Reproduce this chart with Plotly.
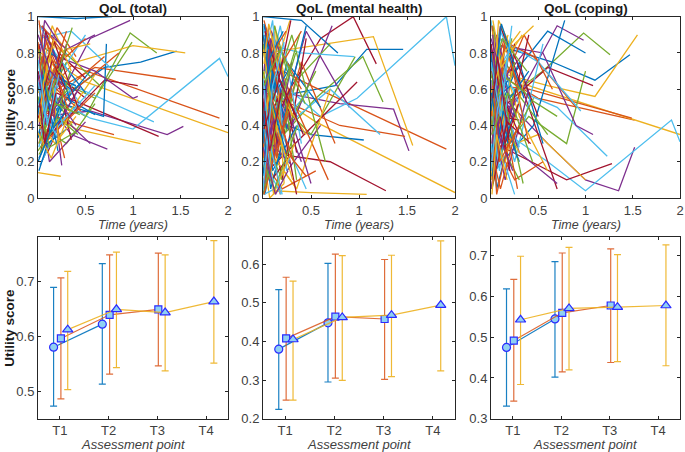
import plotly.graph_objects as go

# ---------------- DATA ----------------
# Individual trajectories (time in years, utility score)
total_t = [
    [0.10, 0.70, 1.08, 1.46], [0.05, 0.35, 1.91], [0.03, 0.50, 2.00], [0.06, 0.55, 1.36, 1.53],
    [0.03, 0.50, 0.97, 1.25], [0.08, 0.55, 1.00, 1.91, 2.00], [0.10, 0.90, 1.27], [0.00, 0.40, 0.78],
    [0.04, 0.60, 1.45], [0.02, 0.40, 1.00, 1.55], [0.02, 0.55, 0.97], [0.02, 0.60, 0.99],
    [0.04, 0.45, 1.22], [0.05, 0.70, 1.05], [0.03, 0.25, 0.69, 0.72], [0.01, 0.30, 0.85],
    [0.05, 0.40, 1.08], [0.10, 0.60, 1.00, 1.05], [0.02, 0.30, 0.60], [0.01, 0.35, 0.80],
    [0.03, 0.15, 0.50], [0.02, 0.20, 0.55], [0.06, 0.30, 0.70], [0.00, 0.24],
    [0.04, 0.25, 0.55], [0.01, 0.25, 0.65], [0.02, 0.40], [0.01, 0.15, 0.40],
    [0.01, 0.30, 0.60], [0.02, 0.45, 0.80], [0.03, 0.20, 0.45], [0.02, 0.35, 0.73],
    [0.05, 0.25], [0.02, 0.25, 0.45], [0.02, 0.22, 0.50], [0.06, 0.35],
    [0.01, 0.20, 0.40], [0.02, 0.30, 0.60], [0.03, 0.12, 0.50], [0.04, 0.18, 0.36],
    [0.01, 0.15, 0.50], [0.02, 0.18, 0.35], [0.01, 0.12, 0.40], [0.03, 0.25, 0.60],
    [0.01, 0.20], [0.02, 0.30, 0.60], [0.02, 0.35], [0.03, 0.30],
    [0.01, 0.10, 0.30], [0.02, 0.25, 0.50], [0.02, 0.15, 0.45], [0.00, 0.30, 0.55],
    [0.01, 0.20, 0.45], [0.02, 0.15, 0.30], [0.02, 0.22, 0.60], [0.00, 0.12, 0.30],
    [0.01, 0.10, 0.30], [0.04, 0.30, 0.50], [0.01, 0.18, 0.40], [0.03, 0.20, 0.40],
    [0.00, 0.22, 0.42], [0.01, 0.18, 0.35], [0.02, 0.08, 0.28], [0.00, 0.16, 0.35],
    [0.01, 0.12, 0.28], [0.02, 0.15, 0.35], [0.01, 0.14, 0.25], [0.01, 0.10, 0.32],
    [0.00, 0.12, 0.26], [0.01, 0.09, 0.22],
    [0.00, 0.10, 0.25], [0.01, 0.14, 0.30], [0.02, 0.12, 0.22], [0.00, 0.08, 0.26],
    [0.01, 0.16, 0.34], [0.02, 0.10, 0.20], [0.00, 0.09, 0.30], [0.01, 0.13, 0.28],
    [0.00, 0.06, 0.18], [0.02, 0.11, 0.33], [0.01, 0.07, 0.24], [0.00, 0.12, 0.38],
    [0.01, 0.09, 0.19], [0.02, 0.17, 0.42], [0.00, 0.05, 0.21], [0.01, 0.10, 0.27],
    [0.00, 0.14, 0.31], [0.02, 0.08, 0.23], [0.01, 0.12, 0.36], [0.00, 0.07, 0.20],
    [0.01, 0.15, 0.29], [0.00, 0.11, 0.24], [0.02, 0.09, 0.32], [0.01, 0.06, 0.17],
    [0.00, 0.13, 0.26], [0.01, 0.18, 0.44], [0.00, 0.10, 0.22], [0.02, 0.07, 0.19],
]
total_u = [
    [0.50, 0.72, 0.75, 0.81], [0.55, 0.73, 0.44], [0.80, 0.64, 0.36], [0.45, 0.48, 0.35, 0.395],
    [0.60, 0.45, 0.91, 0.80], [0.58, 0.44, 0.38, 0.77, 0.67], [0.60, 0.42, 0.34], [1.00, 0.99, 1.00],
    [0.55, 0.72, 0.655], [0.90, 0.75, 0.84, 0.80], [0.35, 0.88, 0.98], [0.70, 0.55, 0.86],
    [0.72, 0.60, 0.42], [0.30, 0.65, 0.62], [0.40, 0.52, 0.45, 0.85], [0.78, 0.56, 0.80],
    [0.50, 0.38, 0.30], [0.80, 0.70, 0.55, 0.56], [0.40, 0.30, 0.52], [0.88, 0.92, 0.70],
    [0.25, 0.70, 0.55], [0.65, 0.48, 0.70], [0.90, 0.60, 0.78], [0.14, 0.12],
    [0.20, 0.45, 0.30], [0.50, 0.82, 0.62], [0.30, 0.66], [0.85, 0.35, 0.58],
    [0.22, 0.55, 0.46], [0.48, 0.40, 0.35], [0.62, 0.88, 0.72], [0.58, 0.35, 0.27],
    [0.95, 0.70], [0.45, 0.65, 0.52], [0.38, 0.80, 0.66], [0.70, 0.60],
    [0.62, 0.94, 0.78], [0.35, 0.45, 0.68], [0.52, 0.20, 0.42], [0.32, 0.55, 0.40],
    [0.76, 0.62, 0.90], [0.55, 0.72, 0.32], [0.35, 0.68, 0.62], [0.28, 0.40, 0.58],
    [0.72, 0.58], [0.95, 0.82, 0.90], [0.62, 0.48], [0.55, 0.80],
    [0.45, 0.25, 0.50], [0.85, 0.75, 0.58], [0.42, 0.62, 0.48], [0.58, 0.82, 0.85],
    [0.68, 0.40, 0.62], [0.88, 0.60, 0.75], [0.18, 0.40, 0.62], [0.70, 0.45, 0.85],
    [0.15, 0.30, 0.38], [0.95, 0.78, 0.88], [0.42, 0.30, 0.45], [0.75, 0.55, 0.40],
    [0.26, 0.44, 0.35], [0.96, 0.80, 0.68], [0.50, 0.92, 0.64], [0.60, 0.82, 0.52],
    [0.30, 0.58, 0.22], [0.65, 0.95, 0.70], [0.40, 0.62, 0.18], [0.78, 0.48, 0.60],
    [0.52, 0.70, 0.40], [0.62, 0.30, 0.78],
    [0.33, 0.60, 0.48], [0.80, 0.66, 0.92], [0.48, 0.82, 0.30], [0.68, 0.42, 0.56],
    [0.24, 0.38, 0.70], [0.92, 0.74, 0.55], [0.44, 0.58, 0.82], [0.60, 0.36, 0.47],
    [0.86, 0.52, 0.66], [0.38, 0.76, 0.64], [0.74, 0.98, 0.84], [0.56, 0.28, 0.36],
    [0.28, 0.50, 0.74], [0.66, 0.86, 0.50], [0.46, 0.68, 0.26], [0.98, 0.62, 0.80],
    [0.36, 0.22, 0.44], [0.58, 0.90, 0.72], [0.82, 0.54, 0.94], [0.64, 0.46, 0.34],
    [0.50, 0.76, 0.60], [0.20, 0.34, 0.52], [0.72, 0.86, 0.48], [0.42, 0.64, 0.88],
    [0.90, 0.70, 0.62], [0.30, 0.52, 0.46], [0.76, 0.40, 0.68], [0.52, 0.30, 0.58],
]

mental_t = [
    [0.05, 0.75, 1.08, 1.46], [0.02, 0.50, 1.91], [0.03, 0.55, 2.00], [0.02, 0.80, 1.36, 1.52],
    [0.05, 0.55, 1.04, 1.25], [0.05, 0.60, 0.98, 1.91, 2.00], [0.05, 0.60, 0.94, 1.18], [0.02, 0.50, 1.05],
    [0.03, 0.80, 1.48], [0.04, 0.65, 1.15, 1.56], [0.02, 0.45, 0.90], [0.03, 0.50, 0.96],
    [0.02, 0.70, 1.22], [0.05, 0.70, 1.28], [0.00, 0.40, 0.78], [0.03, 0.40, 0.75],
    [0.10, 0.50, 1.08], [0.01, 0.30, 0.72], [0.02, 0.35, 0.70], [0.02, 0.40, 0.95],
    [0.05, 0.98], [0.01, 0.25, 0.60], [0.02, 0.30, 0.68], [0.01, 0.35, 0.70],
    [0.03, 0.25, 0.60], [0.01, 0.30, 0.65], [0.02, 0.25, 0.50], [0.01, 0.20, 0.45],
    [0.02, 0.20], [0.01, 0.15, 0.40], [0.02, 0.15, 0.35], [0.01, 0.20, 0.50],
    [0.03, 0.22, 0.55], [0.01, 0.18, 0.40], [0.01, 0.12, 0.35], [0.02, 0.15, 0.45],
    [0.01, 0.20, 0.55], [0.00, 0.12, 0.30], [0.02, 0.18, 0.40], [0.01, 0.10, 0.30],
    [0.03, 0.20, 0.45], [0.02, 0.15, 0.35], [0.01, 0.10, 0.35], [0.00, 0.15, 0.40],
    [0.01, 0.20, 0.45], [0.02, 0.12, 0.30], [0.01, 0.15, 0.35], [0.00, 0.10, 0.25],
    [0.02, 0.10, 0.28], [0.01, 0.08, 0.20], [0.02, 0.18, 0.45], [0.01, 0.12, 0.28],
    [0.00, 0.10, 0.22], [0.02, 0.12, 0.25], [0.01, 0.08, 0.22], [0.00, 0.15, 0.35],
    [0.02, 0.10, 0.20], [0.01, 0.08, 0.18], [0.00, 0.05, 0.15], [0.01, 0.06, 0.18],
    [0.00, 0.08, 0.20], [0.00, 0.10], [0.01, 0.07, 0.16], [0.00, 0.06, 0.14],
    [0.01, 0.10, 0.24], [0.00, 0.07, 0.22], [0.01, 0.09, 0.30], [0.00, 0.06, 0.18],
    [0.01, 0.12, 0.28], [0.00, 0.05, 0.12],
    [0.00, 0.10, 0.25], [0.01, 0.14, 0.30], [0.02, 0.12, 0.22], [0.00, 0.08, 0.26],
    [0.01, 0.16, 0.34], [0.02, 0.10, 0.20], [0.00, 0.09, 0.30], [0.01, 0.13, 0.28],
    [0.00, 0.06, 0.18], [0.02, 0.11, 0.33], [0.01, 0.07, 0.24], [0.00, 0.12, 0.38],
    [0.01, 0.09, 0.19], [0.02, 0.17, 0.42], [0.00, 0.05, 0.21], [0.01, 0.10, 0.27],
    [0.00, 0.14, 0.31], [0.02, 0.08, 0.23], [0.01, 0.12, 0.36], [0.00, 0.07, 0.20],
    [0.01, 0.15, 0.29], [0.00, 0.11, 0.24], [0.02, 0.09, 0.32], [0.01, 0.06, 0.17],
    [0.00, 0.13, 0.26], [0.01, 0.18, 0.44], [0.00, 0.10, 0.22], [0.02, 0.07, 0.19],
]
mental_u = [
    [0.55, 0.62, 0.82, 0.82], [0.75, 0.62, 0.27], [0.60, 0.42, 0.03], [0.60, 0.52, 0.49, 0.26],
    [0.25, 0.55, 0.78, 0.53], [0.70, 0.45, 0.55, 1.00, 0.73], [0.40, 0.88, 1.00, 0.74], [0.45, 0.35, 0.32],
    [0.58, 0.40, 0.34], [0.80, 0.85, 0.89, 0.29], [0.10, 0.92, 0.50], [0.60, 0.35, 0.78],
    [0.30, 0.60, 0.35], [0.25, 0.20, 0.04], [1.00, 0.98, 0.80], [0.10, 0.75, 0.30],
    [0.04, 0.03, 0.02], [0.85, 0.40, 0.95], [0.05, 0.65, 0.85], [0.85, 0.80, 0.78],
    [0.15, 0.64], [0.20, 0.75, 0.50], [0.95, 0.55, 0.10], [0.30, 0.05, 0.60],
    [0.70, 0.15, 0.40], [0.40, 0.90, 0.20], [0.05, 0.45, 0.60], [0.65, 0.10, 0.88],
    [0.02, 0.55], [0.45, 0.85, 0.60], [0.90, 0.20, 0.05], [0.25, 0.60, 0.08],
    [0.80, 0.35, 0.70], [0.55, 0.95, 0.30], [0.05, 0.70, 0.45], [0.75, 0.30, 0.95],
    [0.20, 0.05, 0.15], [0.65, 0.95, 0.45], [0.95, 0.50, 0.20], [0.30, 0.08, 0.55],
    [0.10, 0.35, 0.05], [0.40, 0.80, 0.25], [0.60, 0.15, 0.40], [0.85, 0.70, 0.92],
    [0.15, 0.55, 0.35], [0.50, 0.25, 0.75], [0.70, 0.85, 0.10], [0.20, 0.65, 0.15],
    [0.90, 0.40, 0.60], [0.35, 0.05, 0.30], [0.55, 0.30, 0.12], [0.45, 0.70, 0.98],
    [0.05, 0.40, 0.60], [0.55, 0.95, 0.70], [0.80, 0.50, 0.55], [0.30, 0.55, 0.02],
    [0.90, 0.60, 0.75], [0.10, 0.35, 0.02], [0.50, 0.15, 0.40], [0.70, 0.95, 0.80],
    [0.02, 0.25, 0.10], [0.95, 0.40], [0.15, 0.50, 0.28], [0.40, 0.85, 0.60],
    [0.98, 0.80, 0.92], [0.25, 0.00, 0.08], [0.02, 0.30, 0.18], [0.85, 0.60, 0.48],
    [0.02, 0.05, 0.22], [0.55, 0.20, 0.85],
    [0.12, 0.70, 0.38], [0.88, 0.22, 0.62], [0.35, 0.92, 0.08], [0.62, 0.18, 0.46],
    [0.02, 0.48, 0.80], [0.78, 0.98, 0.40], [0.45, 0.10, 0.25], [0.96, 0.58, 0.72],
    [0.22, 0.82, 0.55], [0.58, 0.02, 0.30], [0.08, 0.36, 0.66], [0.70, 0.44, 0.90],
    [0.40, 0.12, 0.02], [0.92, 0.66, 0.35], [0.30, 0.75, 0.92], [0.02, 0.20, 0.48],
    [0.82, 0.40, 0.10], [0.50, 0.88, 0.62], [0.18, 0.05, 0.40], [0.66, 0.30, 0.02],
    [0.38, 0.62, 0.98], [0.90, 0.50, 0.25], [0.10, 0.55, 0.20], [0.74, 0.96, 0.70],
    [0.28, 0.02, 0.15], [0.62, 0.82, 0.52], [0.04, 0.62, 0.86], [0.48, 0.26, 0.58],
]

coping_t = [
    [0.02, 0.65, 1.10, 1.47], [0.03, 0.50, 1.52], [0.03, 0.40, 2.00], [0.05, 0.60, 1.00, 1.35, 1.52],
    [0.04, 0.55, 0.98, 1.26], [0.05, 0.60, 1.00, 1.91, 2.00], [0.05, 0.80, 1.28], [0.03, 0.60, 1.00],
    [0.05, 0.40, 1.49], [0.03, 0.60, 1.10, 1.55], [0.02, 0.70, 0.98], [0.02, 0.40, 0.80, 1.00],
    [0.03, 0.70, 1.23], [0.02, 0.60, 1.08], [0.04, 0.45, 0.78], [0.01, 0.45, 0.90],
    [0.02, 0.50, 1.00], [0.01, 0.55, 0.90, 1.08], [0.02, 0.40, 0.70], [0.01, 0.50, 0.95],
    [0.03, 0.30, 0.70], [0.01, 0.30, 0.55], [0.02, 0.35, 0.65], [0.01, 0.30, 0.60],
    [0.03, 0.30, 0.70], [0.01, 0.25, 0.60], [0.02, 0.25, 0.55], [0.01, 0.20, 0.50],
    [0.02, 0.20, 0.40], [0.01, 0.25, 0.55], [0.02, 0.25, 0.45], [0.01, 0.15, 0.40],
    [0.02, 0.20, 0.45], [0.01, 0.15, 0.35], [0.02, 0.18, 0.40], [0.01, 0.12, 0.30],
    [0.02, 0.15, 0.40], [0.00, 0.15, 0.35], [0.02, 0.12, 0.35], [0.01, 0.15, 0.30],
    [0.00, 0.10, 0.30], [0.01, 0.12, 0.25], [0.02, 0.15, 0.35], [0.00, 0.12, 0.28],
    [0.01, 0.10, 0.30], [0.00, 0.08, 0.25], [0.02, 0.10, 0.22], [0.01, 0.08, 0.25],
    [0.00, 0.10, 0.30], [0.01, 0.07, 0.20], [0.00, 0.10, 0.25], [0.01, 0.08, 0.18],
    [0.00, 0.06, 0.20], [0.01, 0.09, 0.25], [0.00, 0.07, 0.18], [0.01, 0.05, 0.20],
    [0.00, 0.06, 0.16], [0.01, 0.08, 0.20], [0.00, 0.05, 0.14], [0.01, 0.07, 0.22],
    [0.00, 0.06, 0.15], [0.01, 0.10, 0.30], [0.00, 0.08, 0.30], [0.01, 0.05, 0.18],
    [0.00, 0.06, 0.15], [0.01, 0.08, 0.24], [0.00, 0.05, 0.12], [0.01, 0.07, 0.20],
    [0.00, 0.05, 0.14], [0.01, 0.06, 0.17],
    [0.00, 0.10, 0.25], [0.01, 0.14, 0.30], [0.02, 0.12, 0.22], [0.00, 0.08, 0.26],
    [0.01, 0.16, 0.34], [0.02, 0.10, 0.20], [0.00, 0.09, 0.30], [0.01, 0.13, 0.28],
    [0.00, 0.06, 0.18], [0.02, 0.11, 0.33], [0.01, 0.07, 0.24], [0.00, 0.12, 0.38],
    [0.01, 0.09, 0.19], [0.02, 0.17, 0.42], [0.00, 0.05, 0.21], [0.01, 0.10, 0.27],
    [0.00, 0.14, 0.31], [0.02, 0.08, 0.23], [0.01, 0.12, 0.36], [0.00, 0.07, 0.20],
    [0.01, 0.15, 0.29], [0.00, 0.11, 0.24], [0.02, 0.09, 0.32], [0.01, 0.06, 0.17],
    [0.00, 0.13, 0.26], [0.01, 0.18, 0.44], [0.00, 0.10, 0.22], [0.02, 0.07, 0.19],
]
coping_u = [
    [0.85, 0.75, 0.65, 0.79], [0.70, 0.55, 0.43], [0.75, 0.62, 0.35], [0.60, 0.30, 0.10, 0.04, 0.28],
    [0.50, 0.70, 0.91, 0.79], [0.40, 0.20, 0.04, 0.43, 0.31], [0.30, 0.10, 0.19], [0.55, 0.92, 0.80],
    [0.62, 0.60, 0.44], [0.70, 0.62, 0.56, 0.90], [0.30, 0.95, 0.87], [0.20, 0.45, 0.30, 0.70],
    [0.65, 0.50, 0.23], [0.45, 0.72, 0.62], [0.15, 0.40, 0.98], [0.90, 0.78, 0.50],
    [0.25, 0.35, 0.10], [0.85, 0.80, 0.40, 0.35], [0.85, 0.55, 0.45], [0.90, 0.75, 0.48],
    [0.25, 0.65, 0.05], [0.40, 0.75, 0.30], [0.50, 0.90, 0.60], [0.95, 0.45, 0.15],
    [0.70, 0.25, 0.08], [0.05, 0.60, 0.35], [0.60, 0.20, 0.85], [0.10, 0.85, 0.45],
    [0.95, 0.55, 0.70], [0.35, 0.10, 0.20], [0.55, 0.85, 0.95], [0.45, 0.10, 0.60],
    [0.75, 0.30, 0.55], [0.25, 0.70, 0.45], [0.80, 0.40, 0.90], [0.05, 0.45, 0.20],
    [0.65, 0.90, 0.30], [0.40, 0.20, 0.65], [0.90, 0.65, 0.80], [0.55, 0.25, 0.10],
    [0.70, 0.95, 0.60], [0.60, 0.30, 0.85], [0.30, 0.85, 0.55], [0.15, 0.50, 0.05],
    [0.80, 0.45, 0.25], [0.20, 0.55, 0.35], [0.95, 0.60, 0.88], [0.10, 0.30, 0.02],
    [0.45, 0.95, 0.65], [0.65, 0.20, 0.40], [0.80, 0.35, 0.55], [0.30, 0.70, 0.90],
    [0.55, 0.90, 0.62], [0.15, 0.40, 0.75], [0.98, 0.70, 0.80], [0.35, 0.60, 0.15],
    [0.50, 0.05, 0.25], [0.95, 0.62, 0.72], [0.10, 0.35, 0.48], [0.75, 0.40, 0.52],
    [0.40, 0.75, 0.55], [0.50, 0.55, 0.28], [0.55, 0.45, 0.43], [0.20, 0.65, 0.30],
    [0.60, 0.25, 0.90], [0.45, 0.98, 0.80], [0.85, 0.30, 0.58], [0.70, 0.18, 0.38],
    [0.30, 0.10, 0.62], [0.05, 0.42, 0.24],
    [0.60, 0.25, 0.48], [0.20, 0.85, 0.60], [0.92, 0.40, 0.70], [0.05, 0.28, 0.55],
    [0.72, 0.50, 0.08], [0.38, 0.92, 0.80], [0.85, 0.60, 0.35], [0.12, 0.48, 0.22],
    [0.52, 0.02, 0.30], [0.98, 0.72, 0.90], [0.30, 0.62, 0.45], [0.66, 0.88, 0.70],
    [0.45, 0.15, 0.65], [0.08, 0.42, 0.30], [0.80, 0.55, 0.62], [0.25, 0.05, 0.38],
    [0.58, 0.80, 0.92], [0.90, 0.35, 0.15], [0.40, 0.68, 0.58], [0.15, 0.50, 0.85],
    [0.70, 0.30, 0.52], [0.48, 0.96, 0.75], [0.62, 0.20, 0.42], [0.02, 0.35, 0.10],
    [0.88, 0.65, 0.45], [0.35, 0.58, 0.20], [0.75, 0.45, 0.95], [0.55, 0.78, 0.32],
]

# Mean utility with error-bar bounds per assessment point (series A: circles, B: squares, C: triangles)
assessment_labels = ["T1", "T2", "T3", "T4"]

total_a_mean = [0.581, 0.623]
total_a_low = [0.474, 0.514]
total_a_high = [0.690, 0.733]
total_b_mean = [0.597, 0.640, 0.650]
total_b_low = [0.487, 0.532, 0.547]
total_b_high = [0.707, 0.749, 0.752]
total_c_mean = [0.613, 0.650, 0.644, 0.664]
total_c_low = [0.504, 0.544, 0.538, 0.552]
total_c_high = [0.719, 0.754, 0.749, 0.775]

mental_a_mean = [0.380, 0.448]
mental_a_low = [0.224, 0.295]
mental_a_high = [0.534, 0.602]
mental_b_mean = [0.408, 0.464, 0.458]
mental_b_low = [0.248, 0.305, 0.302]
mental_b_high = [0.566, 0.626, 0.612]
mental_c_mean = [0.405, 0.462, 0.468, 0.494]
mental_c_low = [0.248, 0.299, 0.309, 0.324]
mental_c_high = [0.556, 0.622, 0.623, 0.660]

coping_a_mean = [0.475, 0.545]
coping_a_low = [0.331, 0.402]
coping_a_high = [0.619, 0.686]
coping_b_mean = [0.492, 0.560, 0.578]
coping_b_low = [0.343, 0.415, 0.438]
coping_b_high = [0.642, 0.707, 0.717]
coping_c_mean = [0.543, 0.571, 0.574, 0.578]
coping_c_low = [0.384, 0.420, 0.440, 0.430]
coping_c_high = [0.699, 0.721, 0.703, 0.727]

# ---------------- STYLE ----------------
W, H = 685, 452
MATLAB = ['#0072BD', '#D95319', '#EDB120', '#7E2F8E', '#77AC30', '#4DBEEE', '#A2142F']
FONT = "Liberation Sans, Arial, Helvetica, sans-serif"
AXC = '#262626'
TXT = '#404040'

col_x = [(38, 228), (263, 455), (491, 680)]
top_y = (16.7, 198.0)
bot_y = (236.7, 418.7)


def px(x):
    return x / W


def py(y):
    return 1 - y / H


fig = go.Figure()

top_sets = [(total_t, total_u), (mental_t, mental_u), (coping_t, coping_u)]
for k, (ts, us) in enumerate(top_sets):
    ax = k + 1
    for i, (t, u) in enumerate(zip(ts, us)):
        fig.add_trace(go.Scatter(
            x=t, y=u, mode='lines',
            line=dict(color=MATLAB[i % 7], width=1.3),
            xaxis=f'x{ax}' if ax > 1 else 'x', yaxis=f'y{ax}' if ax > 1 else 'y',
            showlegend=False, hoverinfo='skip'))

bottom_sets = [
    [(total_a_mean, total_a_low, total_a_high), (total_b_mean, total_b_low, total_b_high),
     (total_c_mean, total_c_low, total_c_high)],
    [(mental_a_mean, mental_a_low, mental_a_high), (mental_b_mean, mental_b_low, mental_b_high),
     (mental_c_mean, mental_c_low, mental_c_high)],
    [(coping_a_mean, coping_a_low, coping_a_high), (coping_b_mean, coping_b_low, coping_b_high),
     (coping_c_mean, coping_c_low, coping_c_high)],
]
series_colors = ['rgba(0,114,189,0.9)', 'rgba(217,83,25,0.85)', 'rgba(237,177,32,0.9)']
series_symbols = ['circle', 'square', 'triangle-up']
series_sizes = [8, 7, 9]
offsets = [-0.13, 0.02, 0.16]
for k, sets in enumerate(bottom_sets):
    ax = k + 4
    for s, (m, lo, hi) in enumerate(sets):
        xs = [i + 1 + offsets[s] for i in range(len(m))]
        fig.add_trace(go.Scatter(
            x=xs, y=m, mode='lines+markers',
            line=dict(color=series_colors[s], width=1.2),
            marker=dict(symbol=series_symbols[s], size=series_sizes[s], color='#8fd0f2',
                        line=dict(color='#2b2bff', width=1.2)),
            error_y=dict(type='data', symmetric=False,
                         array=[h - v for h, v in zip(hi, m)],
                         arrayminus=[v - l for v, l in zip(m, lo)],
                         color=series_colors[s], thickness=1.2, width=3.5),
            xaxis=f'x{ax}', yaxis=f'y{ax}', showlegend=False, hoverinfo='skip'))

axis_base = dict(showline=True, linecolor=AXC, linewidth=1, mirror='ticks', ticks='inside',
                 ticklen=3, tickcolor=AXC, tickwidth=1, showgrid=False, zeroline=False,
                 automargin=False,
                 tickfont=dict(family=FONT, size=13, color=TXT))

layout = dict(width=W, height=H, margin=dict(l=0, r=0, t=0, b=0, pad=0, autoexpand=False),
              paper_bgcolor='white', plot_bgcolor='white', showlegend=False)

for k in range(3):
    x0, x1 = col_x[k]
    n = k + 1
    xa = 'xaxis' if n == 1 else f'xaxis{n}'
    ya = 'yaxis' if n == 1 else f'yaxis{n}'
    layout[xa] = dict(axis_base, domain=[px(x0), px(x1)], range=[0, 2],
                      tickvals=[0.5, 1, 1.5, 2], ticktext=['0.5', '1', '1.5', '2'],
                      anchor='y' if n == 1 else f'y{n}')
    layout[ya] = dict(axis_base, domain=[py(top_y[1]), py(top_y[0])], range=[0, 1],
                      tickvals=[0, 0.2, 0.4, 0.6, 0.8, 1], ticktext=['0', '0.2', '0.4', '0.6', '0.8', '1'],
                      anchor='x' if n == 1 else f'x{n}')

bot_ranges = [[0.451, 0.782], [0.2, 0.671], [0.3, 0.747]]
bot_ticks = [[0.5, 0.6, 0.7], [0.2, 0.3, 0.4, 0.5, 0.6], [0.3, 0.4, 0.5, 0.6, 0.7]]
for k in range(3):
    x0, x1 = col_x[k]
    n = k + 4
    layout[f'xaxis{n}'] = dict(axis_base, domain=[px(x0), px(x1)], range=[0.55, 4.45],
                               tickvals=[1, 2, 3, 4], ticktext=assessment_labels, anchor=f'y{n}')
    layout[f'yaxis{n}'] = dict(axis_base, domain=[py(bot_y[1]), py(bot_y[0])], range=bot_ranges[k],
                               tickvals=bot_ticks[k], ticktext=[f'{v:g}' for v in bot_ticks[k]],
                               anchor=f'x{n}')

titles = ['QoL (total)', 'QoL (mental health)', 'QoL (coping)']
ann = []
for k in range(3):
    x0, x1 = col_x[k]
    cx = (x0 + x1) / 2
    ann.append(dict(text=f'<b>{titles[k]}</b>', x=px(cx), y=py(8), xref='paper', yref='paper',
                    showarrow=False, xanchor='center', yanchor='middle',
                    font=dict(family=FONT, size=13.5, color='#1a1a1a')))
    ann.append(dict(text='<i>Time (years)</i>', x=px(cx), y=py(225), xref='paper', yref='paper',
                    showarrow=False, xanchor='center', yanchor='middle',
                    font=dict(family=FONT, size=12.5, color=TXT)))
    ann.append(dict(text='<i>Assessment point</i>', x=px(cx), y=py(444.5), xref='paper', yref='paper',
                    showarrow=False, xanchor='center', yanchor='middle',
                    font=dict(family=FONT, size=13, color=TXT)))
for yc in [(top_y[0] + top_y[1]) / 2, (bot_y[0] + bot_y[1]) / 2]:
    ann.append(dict(text='<b>Utility score</b>', x=px(10), y=py(yc), xref='paper', yref='paper',
                    showarrow=False, xanchor='center', yanchor='middle', textangle=-90,
                    font=dict(family=FONT, size=13.5, color='#1a1a1a')))
layout['annotations'] = ann

fig.update_layout(**layout)
fig.write_html("out.html")
